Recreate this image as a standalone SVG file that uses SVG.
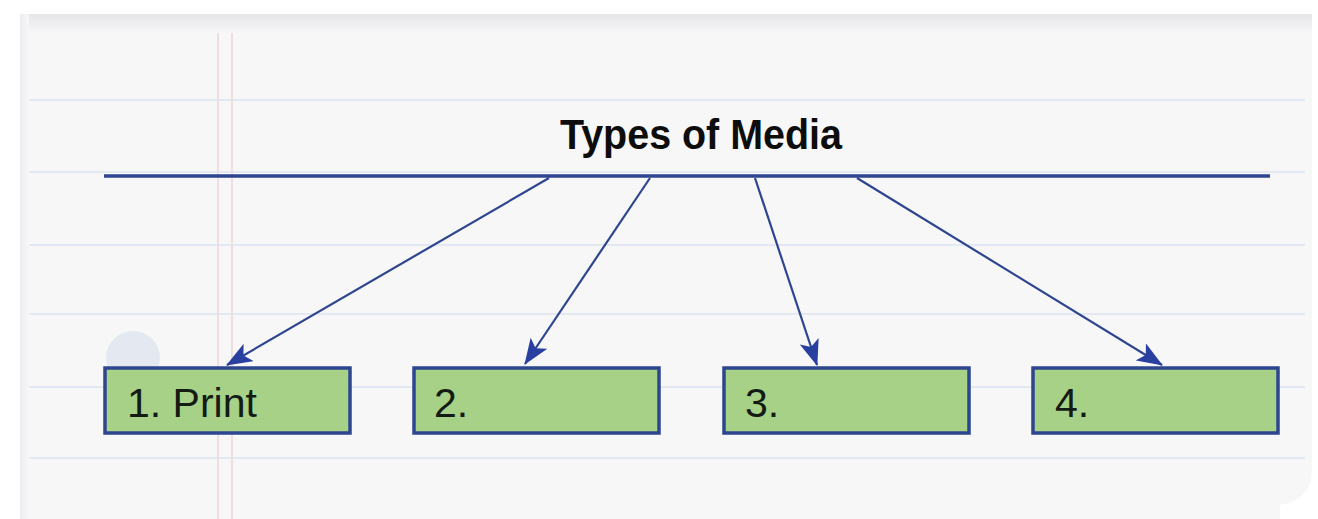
<svg xmlns="http://www.w3.org/2000/svg" width="1318" height="519" viewBox="0 0 1318 519">
<defs>
<linearGradient id="topShade" x1="0" y1="0" x2="0" y2="1">
<stop offset="0" stop-color="#e6e6e8"/>
<stop offset="1" stop-color="#f6f6f8"/>
</linearGradient>
<linearGradient id="leftShade" x1="0" y1="0" x2="1" y2="0">
<stop offset="0" stop-color="#ececf0"/>
<stop offset="1" stop-color="#f7f7f9"/>
</linearGradient>
<marker id="arr" viewBox="0 0 26 20" refX="25" refY="10" markerWidth="26" markerHeight="20" markerUnits="userSpaceOnUse" orient="auto">
<path d="M0,0 L26,10 L0,20 L6,10 Z" fill="#2a40a0"/>
</marker>
<style>
.rule{stroke:#e2e9f2;stroke-width:2}
.margin{stroke:#f0dede;stroke-width:2}
.box{fill:#a6d187;stroke:#2e4590;stroke-width:3.5}
.lbl{font-family:"Liberation Sans",Arial,sans-serif;font-size:41px;fill:#141a14}
.conn{stroke:#2e4590;stroke-width:2.2;fill:none}
</style>
</defs>
<rect width="1318" height="519" fill="#ffffff"/>
<path d="M20,16 H1312 V470 Q1312,500 1280,505 V519 H20 Z" fill="#f7f7f8"/>
<rect x="20" y="14" width="1292" height="18" fill="url(#topShade)"/>
<rect x="20" y="14" width="9" height="505" fill="url(#leftShade)"/>
<g id="paper-lines">
<line class="rule" x1="29" y1="100" x2="1305" y2="100"/>
<line class="rule" x1="29" y1="172" x2="1305" y2="172"/>
<line class="rule" x1="29" y1="245" x2="1305" y2="245"/>
<line class="rule" x1="29" y1="314" x2="1305" y2="314"/>
<line class="rule" x1="29" y1="387" x2="1305" y2="387"/>
<line class="rule" x1="29" y1="458" x2="1305" y2="458"/>
<line class="margin" x1="218" y1="33" x2="218" y2="519"/>
<line class="margin" x1="232" y1="33" x2="232" y2="519"/>
<circle cx="133" cy="358" r="27" fill="#e4e8f1"/>
</g>
<g id="title">
<text x="701" y="149" text-anchor="middle" font-family="Liberation Sans,Arial,sans-serif" font-weight="bold" font-size="42" textLength="282" lengthAdjust="spacingAndGlyphs" fill="#0d0d0d">Types of Media</text>
<line x1="104" y1="176" x2="1270" y2="176" stroke="#2e4590" stroke-width="3.5"/>
</g>
<g id="connectors">
<line class="conn" x1="549" y1="178" x2="227" y2="365" marker-end="url(#arr)"/>
<line class="conn" x1="650" y1="178" x2="525" y2="364" marker-end="url(#arr)"/>
<line class="conn" x1="755" y1="178" x2="817" y2="365" marker-end="url(#arr)"/>
<line class="conn" x1="857" y1="178" x2="1162" y2="365" marker-end="url(#arr)"/>
</g>
<g id="node1">
<rect class="box" x="105" y="368" width="245" height="65"/>
<text class="lbl" x="127" y="417">1. Print</text>
</g>
<g id="node2">
<rect class="box" x="414" y="368" width="245" height="65"/>
<text class="lbl" x="434" y="417">2.</text>
</g>
<g id="node3">
<rect class="box" x="724" y="368" width="245" height="65"/>
<text class="lbl" x="745" y="417">3.</text>
</g>
<g id="node4">
<rect class="box" x="1033" y="368" width="245" height="65"/>
<text class="lbl" x="1055" y="417">4.</text>
</g>
</svg>
